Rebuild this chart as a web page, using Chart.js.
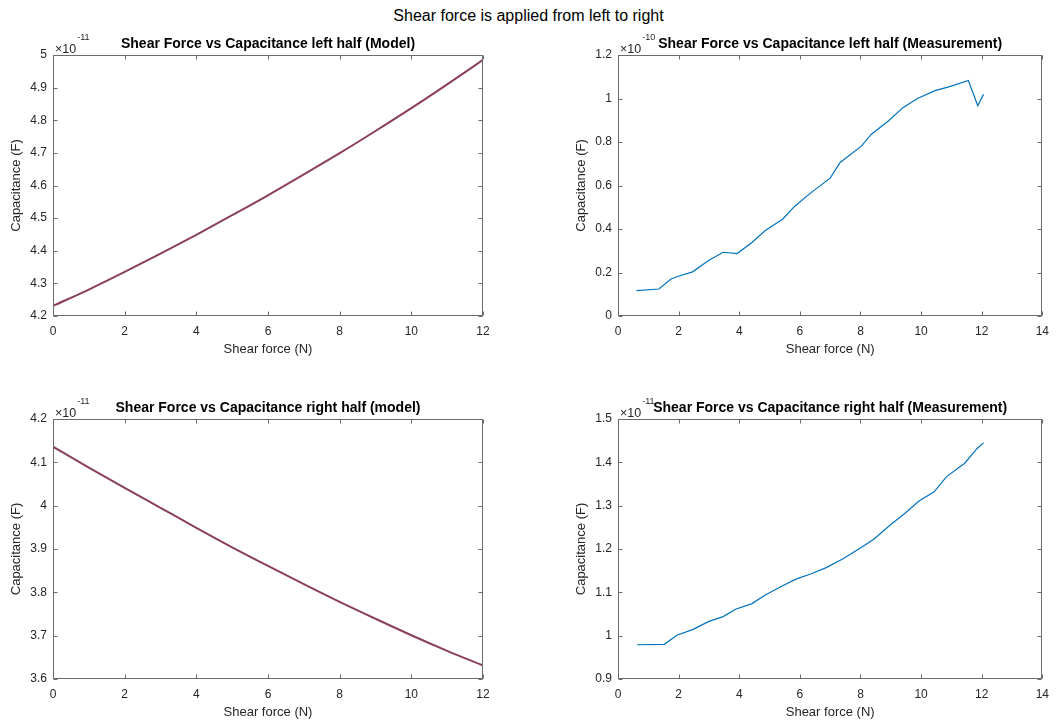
<!DOCTYPE html>
<html>
<head>
<meta charset="utf-8">
<script src="https://cdn.jsdelivr.net/npm/chart.js@4/dist/chart.umd.min.js"></script>
<style>
  html, body { margin: 0; padding: 0; background: #fff; overflow: hidden; }
  body { width: 1057px; height: 725px; position: relative; font-family: "Liberation Sans", Arial, sans-serif; }
  #suptitle { position: absolute; left: 0; top: 7px; width: 1057px; text-align: center; font-size: 16px; line-height: 18px; color: #000; }
  canvas { position: absolute; }
</style>
</head>
<body>
<div id="suptitle">Shear force is applied from left to right</div>
<canvas id="tl"></canvas>
<canvas id="tr"></canvas>
<canvas id="bl"></canvas>
<canvas id="br"></canvas>
<script>
// model curves (capacitance in units of 1e-11 F)
const forceModel = [0, 1, 2, 3, 4, 5, 6, 7, 8, 9, 10, 11, 12];
const capLeftModel = [4.231, 4.281, 4.335, 4.391, 4.449, 4.509, 4.570, 4.634, 4.699, 4.767, 4.837, 4.910, 4.985];
const capRightModel = [4.136, 4.088, 4.041, 3.995, 3.949, 3.904, 3.861, 3.819, 3.778, 3.739, 3.701, 3.665, 3.631];

// measurement, left half (capacitance in units of 1e-10 F)
const forceLeftMeas = [0.61, 1.35, 1.75, 1.99, 2.46, 3.0, 3.47, 3.93, 4.42, 4.86, 5.43, 5.84, 6.36,
  7.0, 7.33, 8.03, 8.36, 8.94, 9.40, 9.88, 10.46, 10.97, 11.56, 11.87, 12.06];
const capLeftMeas = [0.117, 0.124, 0.170, 0.183, 0.203, 0.256, 0.293, 0.287, 0.338, 0.393, 0.445, 0.506, 0.566,
  0.634, 0.706, 0.781, 0.836, 0.899, 0.958, 1.000, 1.036, 1.056, 1.083, 0.967, 1.019];

// measurement, right half (capacitance in units of 1e-11 F)
const forceRightMeas = [0.63, 1.53, 1.94, 2.46, 3.0, 3.47, 3.88, 4.42, 4.86, 5.40, 5.89, 6.38,
  6.87, 7.41, 8.01, 8.45, 8.99, 9.48, 9.92, 10.43, 10.84, 11.44, 11.85, 12.06];
const capRightMeas = [0.979, 0.980, 1.001, 1.014, 1.033, 1.044, 1.061, 1.074, 1.094, 1.114, 1.131, 1.143,
  1.157, 1.177, 1.203, 1.223, 1.256, 1.283, 1.310, 1.332, 1.367, 1.398, 1.432, 1.445];

const MODEL_COLOR = "#8a3f5e";
const MEAS_COLOR = "#0072bd";
const FONT = '"Liberation Sans", Arial, sans-serif';

function toPoints(xs, ys) {
  return xs.map((x, i) => ({ x: x, y: ys[i] }));
}

// draws the matlab-ish box, inward ticks, subplot title and the x10^n label
const matlabAxes = {
  id: "matlabAxes",
  afterDraw(chart, args, opts) {
    const { ctx, chartArea: a } = chart;
    const { x, y } = chart.scales;
    const L = Math.round(a.left) + 0.5, R = Math.round(a.right) - 0.5;
    const T = Math.round(a.top) + 0.5, B = Math.round(a.bottom) - 0.5;
    ctx.save();
    ctx.strokeStyle = "#6b6b6b";
    ctx.lineWidth = 1;
    ctx.beginPath();
    x.ticks.forEach(t => {
      const px = Math.round(x.getPixelForValue(t.value)) + 0.5;
      ctx.moveTo(px, B); ctx.lineTo(px, B - 4);
      ctx.moveTo(px, T); ctx.lineTo(px, T + 4);
    });
    y.ticks.forEach(t => {
      const py = Math.round(y.getPixelForValue(t.value)) + 0.5;
      ctx.moveTo(L, py); ctx.lineTo(L + 4, py);
      ctx.moveTo(R, py); ctx.lineTo(R - 4, py);
    });
    ctx.stroke();
    ctx.strokeRect(L, T, R - L, B - T);

    // exponent label
    ctx.fillStyle = "#262626";
    ctx.textAlign = "left";
    ctx.textBaseline = "alphabetic";
    ctx.font = "12.5px " + FONT;
    ctx.fillText("\u00d710", a.left + 2, a.top - 2.5);
    const w = ctx.measureText("\u00d710").width;
    ctx.font = "9px " + FONT;
    ctx.fillText(opts.exponent, a.left + 2 + w + 1, a.top - 15.5);

    // subplot title
    ctx.fillStyle = "#000";
    ctx.font = "bold 14px " + FONT;
    ctx.textAlign = "center";
    ctx.textBaseline = "middle";
    ctx.fillText(opts.title, (a.left + a.right) / 2, a.top - 11);
    ctx.restore();
  }
};

function makePlot(id, cv, plot, spec) {
  const el = document.getElementById(id);
  el.width = cv.w; el.height = cv.h;
  el.style.left = cv.x + "px"; el.style.top = cv.y + "px";
  const yAxisWidth = plot.l - cv.x;
  const xAxisHeight = cv.y + cv.h - plot.b;

  new Chart(el, {
    type: "line",
    data: {
      datasets: [{
        data: toPoints(spec.xs, spec.ys),
        borderColor: spec.color,
        borderWidth: spec.width,
        pointRadius: 0,
        cubicInterpolationMode: spec.smooth ? "monotone" : "default",
        tension: 0,
        fill: false
      }]
    },
    options: {
      responsive: false,
      animation: false,
      events: [],
      layout: { padding: { left: 0, top: plot.t - cv.y, right: cv.x + cv.w - plot.r, bottom: 0 } },
      plugins: {
        legend: { display: false },
        tooltip: { enabled: false },
        matlabAxes: { title: spec.title, exponent: spec.exponent }
      },
      scales: {
        x: {
          type: "linear",
          min: spec.xMin, max: spec.xMax,
          grid: { display: false, drawTicks: false },
          border: { display: false },
          ticks: {
            stepSize: 2, autoSkip: false, maxRotation: 0, padding: 8,
            color: "#262626", font: { family: FONT, size: 12 }
          },
          title: {
            display: true, text: "Shear force (N)", color: "#262626",
            font: { family: FONT, size: 13 },
            padding: { top: 0, bottom: xAxisHeight - 33 - 7.8 }
          },
          afterFit(scale) { scale.height = xAxisHeight; }
        },
        y: {
          type: "linear",
          min: spec.yMin, max: spec.yMax,
          grid: { display: false, drawTicks: false },
          border: { display: false },
          ticks: {
            stepSize: spec.yStep, autoSkip: false, padding: 6,
            color: "#262626", font: { family: FONT, size: 12 },
            callback: v => String(Number(v.toFixed(2)))
          },
          title: {
            display: true, text: "Capacitance (F)", color: "#262626",
            font: { family: FONT, size: 13 },
            padding: { top: 9, bottom: 0 }
          },
          afterFit(scale) { scale.width = yAxisWidth; }
        }
      }
    },
    plugins: [matlabAxes]
  });
}

makePlot("tl", { x: 0, y: 28, w: 528, h: 330 }, { l: 53, t: 55, r: 483, b: 316 }, {
  xs: forceModel, ys: capLeftModel, color: MODEL_COLOR, width: 2, smooth: true,
  title: "Shear Force vs Capacitance left half (Model)", exponent: "-11",
  xMin: 0, xMax: 12, yMin: 4.2, yMax: 5, yStep: 0.1
});
makePlot("tr", { x: 565, y: 28, w: 492, h: 330 }, { l: 618, t: 55, r: 1047, b: 316 }, {
  xs: forceLeftMeas, ys: capLeftMeas, color: MEAS_COLOR, width: 1.2,
  title: "Shear Force vs Capacitance left half (Measurement)", exponent: "-10",
  xMin: 0, xMax: 14, yMin: 0, yMax: 1.2, yStep: 0.2
});
makePlot("bl", { x: 0, y: 392, w: 528, h: 333 }, { l: 53, t: 419, r: 483, b: 679 }, {
  xs: forceModel, ys: capRightModel, color: MODEL_COLOR, width: 2, smooth: true,
  title: "Shear Force vs Capacitance right half (model)", exponent: "-11",
  xMin: 0, xMax: 12, yMin: 3.6, yMax: 4.2, yStep: 0.1
});
makePlot("br", { x: 565, y: 392, w: 492, h: 333 }, { l: 618, t: 419, r: 1047, b: 679 }, {
  xs: forceRightMeas, ys: capRightMeas, color: MEAS_COLOR, width: 1.2,
  title: "Shear Force vs Capacitance right half (Measurement)", exponent: "-11",
  xMin: 0, xMax: 14, yMin: 0.9, yMax: 1.5, yStep: 0.1
});
</script>
</body>
</html>
